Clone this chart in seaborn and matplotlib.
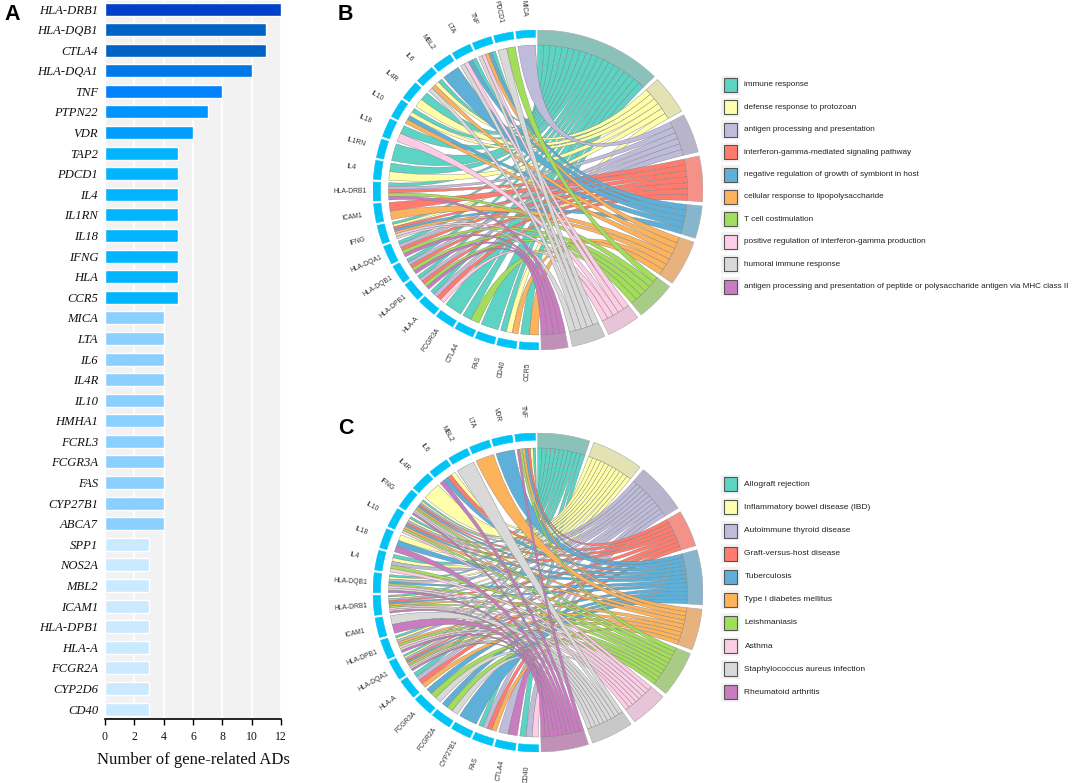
import numpy as np
import pandas as pd
import matplotlib
matplotlib.use('Agg')
import matplotlib.pyplot as plt
from matplotlib.path import Path
from matplotlib.patches import PathPatch, Rectangle
import seaborn as sns

# panel A
ad_genes = ['HLA-DRB1','HLA-DQB1','CTLA4','HLA-DQA1','TNF','PTPN22','VDR','TAP2','PDCD1','IL4','IL1RN','IL18',
            'IFNG','HLA','CCR5','MICA','LTA','IL6','IL4R','IL10','HMHA1','FCRL3','FCGR3A','FAS','CYP27B1','ABCA7',
            'SPP1','NOS2A','MBL2','ICAM1','HLA-DPB1','HLA-A','FCGR2A','CYP2D6','CD40']
ad_counts = [12,11,11,10,8,7,6,5,5,5,5,5,5,5,5,4,4,4,4,4,4,4,4,4,4,4,3,3,3,3,3,3,3,3,3]
count_colors = {12:'#0041c8',11:'#0062c4',10:'#0078e8',8:'#0082ff',7:'#0094ff',6:'#009fff',5:'#00b4ff',4:'#8ad0ff',3:'#cbe9ff'}

# panel B
go_terms = ['immune response','defense response to protozoan','antigen processing and presentation',
            'interferon-gamma-mediated signaling pathway','negative regulation of growth of symbiont in host',
            'cellular response to lipopolysaccharide','T cell costimulation',
            'positive regulation of interferon-gamma production','humoral immune response',
            'antigen processing and presentation of peptide or polysaccharide antigen via MHC class II']
go_genes = ['CCR5','CD40','FAS','CTLA4','FCGR3A','HLA-A','HLA-DPB1','HLA-DQB1','HLA-DQA1','IFNG','ICAM1','HLA-DRB1',
            'IL4','IL1RN','IL18','IL10','IL4R','IL6','MBL2','LTA','TNF','PDCD1','MICA']
go_links = [[0,5],[0,1,5],[0],[0,6],[0],[0,2,3,7],[0,2,3,6,9],[0,2,3,6,9],[0,2,3,6,9],[0,1,3,4,5,7,8],[3,5],[0,2,3,6,9],
            [0,1],[0],[0,7],[0,1,4,5],[0,1],[0,1,5,8],[4],[0,4,7,8],[0,4,5,7,8],[6,8],[2]]

# panel C
kegg_terms = ['Allograft rejection','Inflammatory bowel disease (IBD)','Autoimmune thyroid disease',
              'Graft-versus-host disease','Tuberculosis','Type I diabetes mellitus','Leishmaniasis','Asthma',
              'Staphylococcus aureus infection','Rheumatoid arthritis']
kegg_genes = ['CD40','CTLA4','FAS','CYP27B1','FCGR2A','FCGR3A','HLA-A','HLA-DQA1','HLA-DPB1','ICAM1','HLA-DRB1','HLA-DQB1',
              'IL4','IL18','IL10','IFNG','IL4R','IL6','MBL2','LTA','VDR','TNF']
kegg_links = [[0,2,7],[2,9],[0,2,3,5],[4],[4,6,8],[4,6,8],[0,2,3,5],[0,1,2,3,4,5,6,7,8,9],[0,1,2,5,6,7,8,9],[8,9],
              [0,1,2,3,4,5,6,7,8,9],[0,1,2,4,6,7,8,9],[0,1,2,6,7],[1,4,9],[0,1,2,3,4,5,6,7],[0,1,2,3,4,5,6,7,8,9],
              [1],[1,3,4,9],[8],[5],[4],[0,1,3,4,5,6,9]]

ribbon_colors = ['#5dd3c4','#ffffaa','#bfbbdb','#ff7b6e','#5fb0d8','#fdb35c','#a2de5a','#fccde5','#d9d9d9','#c97cc0']
sector_colors = ['#8ac2ba','#e2e2b2','#b8b4cc','#f4928a','#86b5cc','#e8b27e','#a8cc85','#e8c4d8','#c8c8c8','#c090b8']
gene_color = '#00c4f5'

W, H = 1072, 783

sns.set_theme(style='white')
plt.rcParams['font.family'] = ['Liberation Sans', 'DejaVu Sans']


def px_axes(fig, left, top, right, bottom):
    return fig.add_axes([left/W, 1-bottom/H, (right-left)/W, (bottom-top)/H])


def pt(theta, r):
    t = np.radians(theta)
    return np.column_stack([r*np.sin(t), r*np.cos(t)])


def band(ax, t0, t1, r0, r1, color, edge):
    a = np.linspace(t0, t1, 40)
    xy = np.vstack([pt(a, r1), pt(a[::-1], r0)])
    ax.fill(xy[:,0], xy[:,1], facecolor=color, edgecolor=edge, lw=0.4)


def ribbon(ax, g0, g1, t0, t1, r, color):
    # gene arc -> through the centre -> term arc -> back through the centre
    ga = pt(np.linspace(g0, g1, 8), r)
    ta = pt(np.linspace(t0, t1, 8), r)
    verts = list(ga) + [(0,0), ta[0]] + list(ta[1:]) + [(0,0), ga[0]]
    codes = [Path.MOVETO] + [Path.LINETO]*7 + [Path.CURVE3]*2 + [Path.LINETO]*7 + [Path.CURVE3]*2
    ax.add_patch(PathPatch(Path(verts, codes), facecolor=color, edgecolor='#777777', lw=0.25))


def chord(ax, genes, links):
    ax.set_xlim(-1, 1)
    ax.set_ylim(-1, 1)
    ax.axis('off')
    n = len(genes)
    gene_start, gene_end, gene_gap = 179.8, 359.1, 1.0
    g_w = (gene_end-gene_start-gene_gap*(n-1))/n
    g_spans = [(gene_start+i*(g_w+gene_gap), gene_start+i*(g_w+gene_gap)+g_w) for i in range(n)]

    counts = [sum(k in l for l in links) for k in range(10)]
    term_start, term_end, term_gap = -0.1, 178.9, 1.5
    unit = (term_end-term_start-9*term_gap)/sum(counts)

    # where each gene/term pair lands on the gene side
    ends = {}
    for i, l in enumerate(links):
        w = g_w/len(l)
        for j, k in enumerate(sorted(l, reverse=True)):
            ends[(i,k)] = (g_spans[i][0]+j*w, g_spans[i][0]+(j+1)*w)

    pos = term_start
    for k in range(10):
        t_w = counts[k]*unit
        band(ax, pos, pos+t_w, 0.906, 1.0, sector_colors[k], '#aaaaaa')
        cur = pos
        for i in range(n-1, -1, -1):
            if k in links[i]:
                ribbon(ax, ends[(i,k)][0], ends[(i,k)][1], cur, cur+unit, 0.906, ribbon_colors[k])
                cur += unit
        pos += t_w+term_gap

    for i, g in enumerate(genes):
        band(ax, g_spans[i][0], g_spans[i][1], 0.955, 1.0, gene_color, gene_color)
        mid = sum(g_spans[i])/2
        rot = 270-mid
        x, y = pt(mid, 1.14)[0]
        ax.text(x, y, g, rotation=rot, ha='center', va='center', fontsize=4.9, color='#333333', clip_on=False)


fig = plt.figure(figsize=(W/100, H/100), dpi=100, facecolor='white')

# panel A
ad_df = pd.DataFrame({'gene':ad_genes, 'count':ad_counts})
ax = px_axes(fig, 105, 1, 281, 719)
ax.set_facecolor('#f2f2f2')
sns.barplot(data=ad_df, y='gene', x='count', hue='count', palette=count_colors, dodge=False, legend=False, width=0.63, saturation=1, ax=ax, zorder=3)
ax.set_xlim(0, 12)
ax.set_ylim(34.485, -0.39)
ax.set_xticks(range(0,13,2))
ax.grid(axis='x', color='white', lw=1.3, zorder=1)
ax.set_axisbelow(True)
sns.despine(ax=ax, left=True)
ax.spines['bottom'].set_color('black')
ax.spines['bottom'].set_linewidth(1.2)
ax.tick_params(axis='x', length=4, width=1, color='black', bottom=True, pad=5)
ax.tick_params(axis='y', length=0, pad=5)
for t in ax.get_xticklabels():
    t.set_fontfamily('Liberation Serif')
    t.set_fontsize(8.5)
    t.set_color('#111111')
for t in ax.get_yticklabels():
    t.set_fontfamily('Liberation Serif')
    t.set_fontstyle('italic')
    t.set_fontsize(9.1)
    t.set_color('#111111')
ax.set_ylabel('')
ax.set_xlabel('Number of gene-related ADs', fontfamily='Liberation Serif', fontsize=12, color='#111111', labelpad=6)

# panels B and C
ax_b = px_axes(fig, 373, 30, 703, 350)
chord(ax_b, go_genes, go_links)
ax_c = px_axes(fig, 373, 433, 703, 752)
chord(ax_c, kegg_genes, kegg_links)

# legends and panel letters, in pixel coordinates
ov = fig.add_axes([0,0,1,1], facecolor='none')
ov.set_xlim(0, W)
ov.set_ylim(H, 0)
ov.axis('off')


def term_legend(labels, y0, dy, size):
    for k, lab in enumerate(labels):
        y = y0+k*dy
        ov.add_patch(Rectangle((720.5, y-9.5), 19, 19, facecolor='#f2f2f2', edgecolor='none'))
        ov.add_patch(Rectangle((723.5, y-7), 13.5, 14, facecolor=ribbon_colors[k], edgecolor='#555555', lw=0.8))
        ov.text(744.5, y, lab, ha='left', va='center', fontsize=size, color='#222222')


term_legend(go_terms, 85, 22.4, 5.85)
term_legend(kegg_terms, 484.3, 23.1, 6.0)

for s, x, y in [('A',12,14),('B',345,14),('C',346,428)]:
    ov.text(x, y, s, ha='center', va='center', fontsize=15.5, fontweight='bold', color='black')

fig.savefig('out.png', dpi=100)
